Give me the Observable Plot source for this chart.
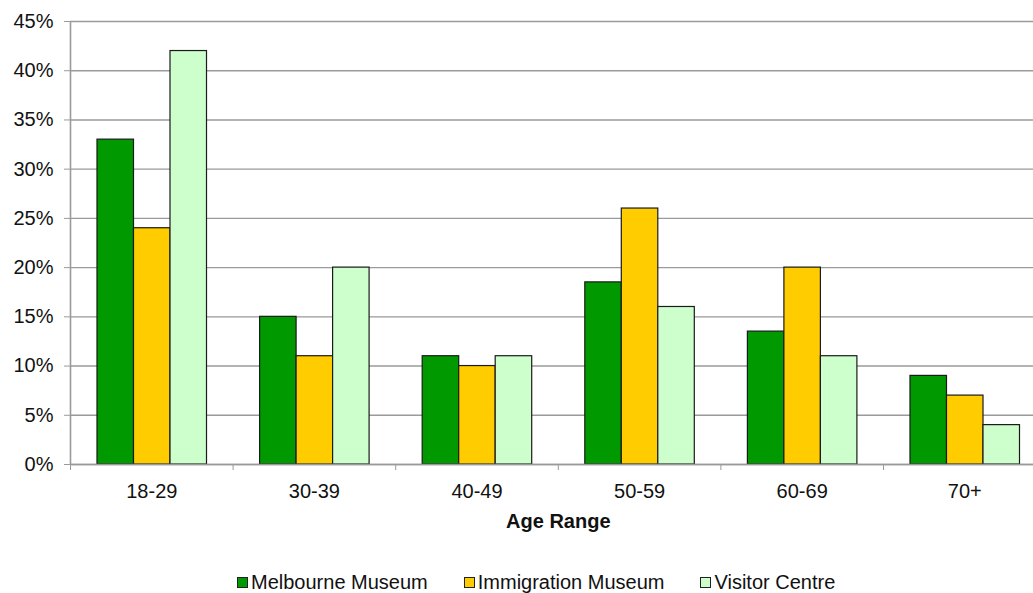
<!DOCTYPE html>
<html>
<head>
<meta charset="utf-8">
<script src="https://cdn.jsdelivr.net/npm/d3@7"></script>
<script src="https://cdn.jsdelivr.net/npm/@observablehq/plot@0.6"></script>
<style>
  html, body { margin: 0; padding: 0; background: #fff; overflow: hidden; }
  body { font-family: "Liberation Sans", Arial, sans-serif; width: 1033px; }
  #chart svg { display: block; }
  #legend { display: flex; justify-content: flex-start; font-size: 20px; color: #111; margin-top: 26px; margin-left: 237px; line-height: 22px; }
  .item { display: flex; align-items: center; margin-right: 36px; }
  .sw { width: 9px; height: 9px; border: 1px solid #222; margin-right: 3px; }
</style>
</head>
<body>
<div id="chart"></div>
<div id="legend"></div>
<script>
const ages = ["18-29", "30-39", "40-49", "50-59", "60-69", "70+"];
const seriesNames = ["Melbourne Museum", "Immigration Museum", "Visitor Centre"];
const melbourne = [33, 15, 11, 18.5, 13.5, 9];
const immigration = [24, 11, 10, 26, 20, 7];
const visitor = [42, 20, 11, 16, 11, 4];
const colors = ["#009900", "#ffcc00", "#ccffcc"];
const yTicks = [0, 5, 10, 15, 20, 25, 30, 35, 40, 45];

const seriesValues = [melbourne, immigration, visitor];
const data = [];
ages.forEach((age, i) => {
  seriesNames.forEach((s, j) => {
    data.push({age, ai: i, series: s, si: j, value: seriesValues[j][i]});
  });
});

const groupPad = 0.166;
const barW = 0.2245;

const chart = Plot.plot({
  width: 1033,
  height: 545,
  marginLeft: 70,
  marginRight: 0,
  marginTop: 21,
  marginBottom: 81,
  style: {fontFamily: "'Liberation Sans', Arial, sans-serif", fontSize: "20px", color: "#111", background: "#fff"},
  x: {domain: [0, 6], range: [70, 1045.6]},
  y: {domain: [0, 45]},
  color: {domain: seriesNames, range: colors},
  marks: [
    Plot.gridY(yTicks, {stroke: "#9a9a9a", strokeOpacity: 1, strokeWidth: 1.4}),
    Plot.rectY(data, {
      x1: d => d.ai + groupPad + d.si * barW,
      x2: d => d.ai + groupPad + (d.si + 1) * barW,
      y: "value",
      fill: "series",
      stroke: "#1a1a1a",
      strokeWidth: 1.2
    }),
    Plot.ruleY([0], {stroke: "#9a9a9a", strokeWidth: 1.6}),
    Plot.ruleX([0], {stroke: "#9a9a9a", strokeWidth: 1.6}),
    Plot.axisY(yTicks, {tickSize: 6, tickPadding: 11, stroke: "#9a9a9a", tickFormat: d => d + "%", label: null, fill: "#111", fontSize: 20}),
    Plot.axisX(d3.range(7), {tickSize: 6, stroke: "#9a9a9a", tickFormat: () => "", label: null}),
    Plot.axisX(ages.map((_, i) => i + 0.5), {tickSize: 0, tickPadding: 19, tickFormat: v => ages[Math.round(v - 0.5)], label: null, fill: "#111", fontSize: 20}),
    Plot.text(["Age Range"], {x: 3, frameAnchor: "bottom", dy: 63, fontWeight: "bold", fontSize: 20, fill: "#111"})
  ]
});
document.getElementById("chart").appendChild(chart);

const legend = d3.select("#legend");
seriesNames.forEach((s, j) => {
  const item = legend.append("div").attr("class", "item");
  item.append("div").attr("class", "sw").style("background", colors[j]);
  item.append("span").text(s);
});
</script>
</body>
</html>
